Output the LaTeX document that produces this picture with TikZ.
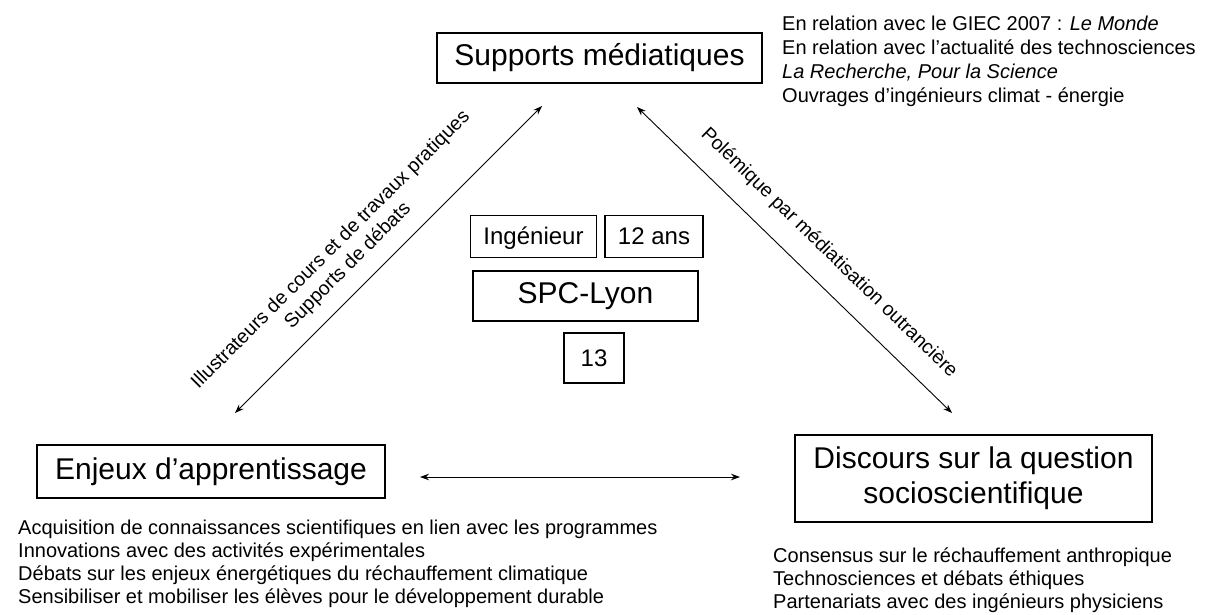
\documentclass[tikz,border=0pt]{standalone}
\usepackage{fontspec}
\setmainfont{Liberation Sans}
\usetikzlibrary{arrows.meta}
\begin{document}
\begin{tikzpicture}[x=1pt,y=-1pt,
  box/.style={draw, line width=1.1pt, inner sep=0pt, align=center},
  fbig/.style={font=\fontsize{30}{35}\selectfont},
  fmid/.style={font=\fontsize{24}{28}\selectfont, text height=18pt, text depth=2pt},
  ftxt/.style={font=\fontsize{20}{24}\selectfont, inner sep=0pt, anchor=base west},
  flbl/.style={font=\fontsize{19.5}{24}\selectfont, inner sep=0pt},
  arr/.style={{Stealth[length=9pt,width=6.5pt]}-{Stealth[length=9pt,width=6.5pt]}, line width=0.9pt}]
\useasboundingbox (0,0) rectangle (1215,615);

% main boxes
\node[box, fbig, minimum width=325pt, minimum height=50pt] (sup) at (599.5,58) {Supports médiatiques};
\node[box, fbig, minimum width=348pt, minimum height=53pt] (enj) at (211,471.5) {Enjeux d’apprentissage};
\node[box, fbig, minimum width=357pt, minimum height=87pt] (dis) at (973.5,478.5) {Discours sur la question\\socioscientifique};

% central boxes
\node[box, fmid, minimum width=126pt, minimum height=42pt] (ing) at (533.5,236.5) {Ingénieur};
\node[box, fmid, minimum width=98pt, minimum height=42pt] (ans) at (654,236.5) {12 ans};
\node[box, fbig, minimum width=225pt, minimum height=50pt] (spc) at (585.5,296) {SPC-Lyon};
\node[box, fmid, minimum width=60pt, minimum height=50pt] (num) at (594,358) {13};

% top-right text
\node[ftxt] (tr1) at (782,31) {En relation avec le GIEC 2007 : \textit{Le Monde}};
\node[ftxt] (tr2) at (782,55) {En relation avec l'actualité des technosciences};
\node[ftxt] (tr3) at (782,79) {\textit{La Recherche, Pour la Science}};
\node[ftxt] (tr4) at (782,103) {Ouvrages d’ingénieurs climat - énergie};

% bottom-left text
\node[ftxt] (bl1) at (18,534) {Acquisition de connaissances scientifiques en lien avec les programmes};
\node[ftxt] (bl2) at (18,557) {Innovations avec des activités expérimentales};
\node[ftxt] (bl3) at (18,580) {Débats sur les enjeux énergétiques du réchauffement climatique};
\node[ftxt] (bl4) at (18,603) {Sensibiliser et mobiliser les élèves pour le développement durable};

% bottom-right text
\node[ftxt] (br1) at (773,562) {Consensus sur le réchauffement anthropique};
\node[ftxt] (br2) at (773,585) {Technosciences et débats éthiques};
\node[ftxt] (br3) at (773,608) {Partenariats avec des ingénieurs physiciens};

% connectors
\coordinate (la) at (235,413);
\coordinate (lb) at (542,106);
\coordinate (ra) at (952,413);
\coordinate (rb) at (637,107);
\coordinate (ha) at (420,477);
\coordinate (hb) at (740,477);
\draw[arr] (la) -- (lb);
\draw[arr] (rb) -- (ra);
\draw[arr] (ha) -- (hb);

% connector labels
\node[flbl, rotate=45] (ll1) at (331,250) {Illustrateurs de cours et de travaux pratiques};
\node[flbl, rotate=45] (ll2) at (348,266) {Supports de débats};
\node[flbl, rotate=-44.2] (rl) at (829,253) {Polémique par médiatisation outrancière};
\end{tikzpicture}
\end{document}
